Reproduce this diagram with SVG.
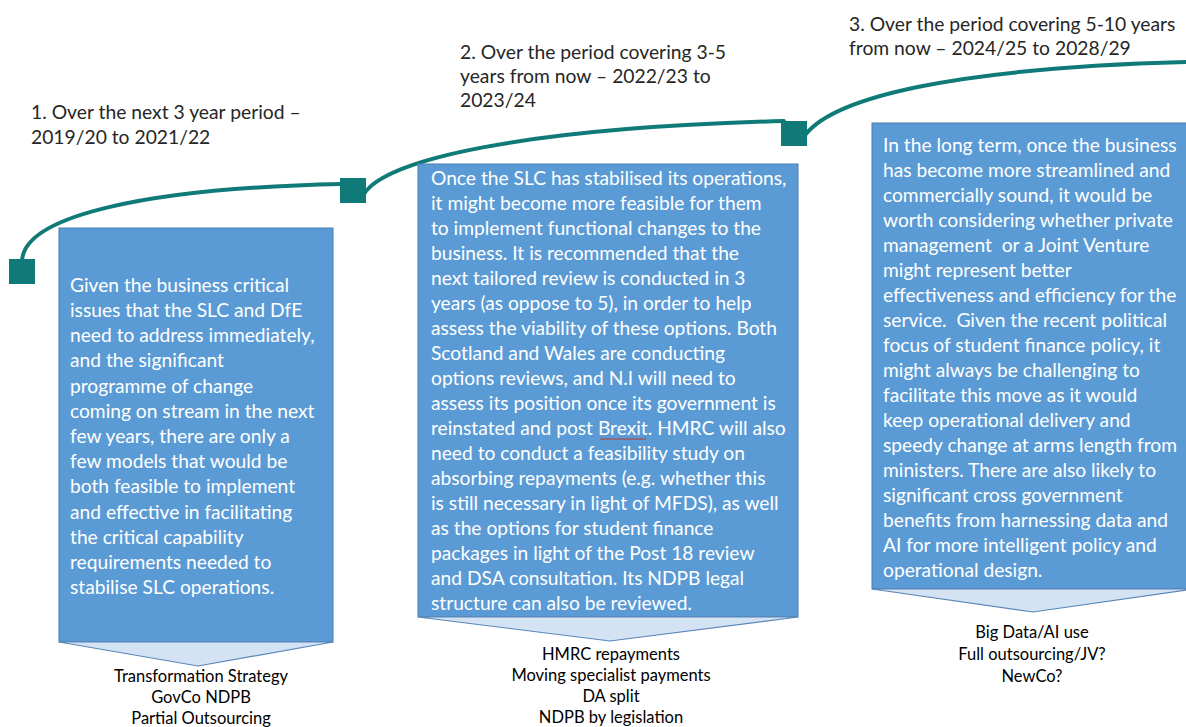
<svg xmlns="http://www.w3.org/2000/svg" width="1186" height="727" viewBox="0 0 1186 727">
<style>
.box{fill:#5B9BD5;stroke:#4A7EB5;stroke-width:1}
.chev{fill:#D3E3F4;stroke:#5A86B8;stroke-width:1.2}
.bt{font-family:Lato,"Open Sans",sans-serif;font-size:19.2px;fill:#ffffff}
.tt{font-family:Lato,"Open Sans",sans-serif;font-size:19.3px;fill:#262626}
.lt{font-family:Lato,"Open Sans",sans-serif;font-size:16.5px;fill:#000000;text-anchor:middle}
.line{fill:none;stroke:#0F7A77;stroke-width:4;stroke-linecap:round}
.sq{fill:#0F7A77}
</style>
<rect width="1186" height="727" fill="#ffffff"/>
<g id="connectors">
<path class="line" d="M22,262 C22,215 150,188 342,184"/>
<path class="line" d="M364,194 C385,160 520,128 784,121"/>
<path class="line" d="M806,134 C835,98 950,68 1190,62"/>
</g>
<g id="milestone1"><rect class="sq" x="9" y="259" width="26" height="25"/></g>
<g id="milestone2"><rect class="sq" x="340" y="178" width="26" height="25"/></g>
<g id="milestone3"><rect class="sq" x="781" y="121" width="26" height="25"/></g>
<g id="title1">
<text class="tt" x="31" y="119">1. Over the next 3 year period –</text>
<text class="tt" x="31" y="144">2019/20 to 2021/22</text>
</g>
<g id="title2">
<text class="tt" x="460" y="59">2. Over the period covering 3-5</text>
<text class="tt" x="460" y="83">years from now – 2022/23 to</text>
<text class="tt" x="460" y="107">2023/24</text>
</g>
<g id="title3">
<text class="tt" x="849" y="31">3. Over the period covering 5-10 years</text>
<text class="tt" x="849" y="55">from now – 2024/25 to 2028/29</text>
</g>
<g id="box1">
<rect class="box" x="59" y="228" width="274" height="414"/>
<path class="chev" d="M59,642 L333,642 L198,666 Z"/>
<text class="bt" x="70" y="292">Given the business critical</text>
<text class="bt" x="70" y="317">issues that the SLC and DfE</text>
<text class="bt" x="70" y="342">need to address immediately,</text>
<text class="bt" x="70" y="367">and the significant</text>
<text class="bt" x="70" y="393">programme of change</text>
<text class="bt" x="70" y="418">coming on stream in the next</text>
<text class="bt" x="70" y="443">few years, there are only a</text>
<text class="bt" x="70" y="468">few models that would be</text>
<text class="bt" x="70" y="493">both feasible to implement</text>
<text class="bt" x="70" y="519">and effective in facilitating</text>
<text class="bt" x="70" y="544">the critical capability</text>
<text class="bt" x="70" y="569">requirements needed to</text>
<text class="bt" x="70" y="594">stabilise SLC operations.</text>
</g>
<g id="box2">
<rect class="box" x="418" y="164" width="380" height="453"/>
<path class="chev" d="M418,617 L798,617 L610,641 Z"/>
<text class="bt" x="431" y="185">Once the SLC has stabilised its operations,</text>
<text class="bt" x="431" y="210">it might become more feasible for them</text>
<text class="bt" x="431" y="235">to implement functional changes to the</text>
<text class="bt" x="431" y="260">business. It is recommended that the</text>
<text class="bt" x="431" y="285">next tailored review is conducted in 3</text>
<text class="bt" x="431" y="310">years (as oppose to 5), in order to help</text>
<text class="bt" x="431" y="335">assess the viability of these options. Both</text>
<text class="bt" x="431" y="360">Scotland and Wales are conducting</text>
<text class="bt" x="431" y="385">options reviews, and N.I will need to</text>
<text class="bt" x="431" y="410">assess its position once its government is</text>
<text class="bt" x="431" y="435">reinstated and post Brexit. HMRC will also</text>
<line x1="600" y1="439" x2="646" y2="439" stroke="#C0392B" stroke-width="1"/>
<text class="bt" x="431" y="460">need to conduct a feasibility study on</text>
<text class="bt" x="431" y="485">absorbing repayments (e.g. whether this</text>
<text class="bt" x="431" y="510">is still necessary in light of MFDS), as well</text>
<text class="bt" x="431" y="535">as the options for student finance</text>
<text class="bt" x="431" y="560">packages in light of the Post 18 review</text>
<text class="bt" x="431" y="585">and DSA consultation. Its NDPB legal</text>
<text class="bt" x="431" y="610">structure can also be reviewed.</text>
</g>
<g id="box3">
<rect class="box" x="872" y="123" width="330" height="466"/>
<path class="chev" d="M872,589 L1194,589 L1033,612 Z"/>
<text class="bt" x="883" y="152">In the long term, once the business</text>
<text class="bt" x="883" y="177">has become more streamlined and</text>
<text class="bt" x="883" y="202">commercially sound, it would be</text>
<text class="bt" x="883" y="227">worth considering whether private</text>
<text class="bt" x="883" y="252" xml:space="preserve">management  or a Joint Venture</text>
<text class="bt" x="883" y="277">might represent better</text>
<text class="bt" x="883" y="302">effectiveness and efficiency for the</text>
<text class="bt" x="883" y="327" xml:space="preserve">service.  Given the recent political</text>
<text class="bt" x="883" y="352">focus of student finance policy, it</text>
<text class="bt" x="883" y="377">might always be challenging to</text>
<text class="bt" x="883" y="402">facilitate this move as it would</text>
<text class="bt" x="883" y="427">keep operational delivery and</text>
<text class="bt" x="883" y="452">speedy change at arms length from</text>
<text class="bt" x="883" y="477">ministers. There are also likely to</text>
<text class="bt" x="883" y="502">significant cross government</text>
<text class="bt" x="883" y="527">benefits from harnessing data and</text>
<text class="bt" x="883" y="552">AI for more intelligent policy and</text>
<text class="bt" x="883" y="577">operational design.</text>
</g>
<g id="outcomes1">
<text class="lt" x="201" y="682">Transformation Strategy</text>
<text class="lt" x="201" y="703">GovCo NDPB</text>
<text class="lt" x="201" y="724">Partial Outsourcing</text>
</g>
<g id="outcomes2">
<text class="lt" x="611" y="660">HMRC repayments</text>
<text class="lt" x="611" y="681">Moving specialist payments</text>
<text class="lt" x="611" y="702">DA split</text>
<text class="lt" x="611" y="723">NDPB by legislation</text>
</g>
<g id="outcomes3">
<text class="lt" x="1032" y="638">Big Data/AI use</text>
<text class="lt" x="1032" y="660">Full outsourcing/JV?</text>
<text class="lt" x="1032" y="682">NewCo?</text>
</g>
</svg>
